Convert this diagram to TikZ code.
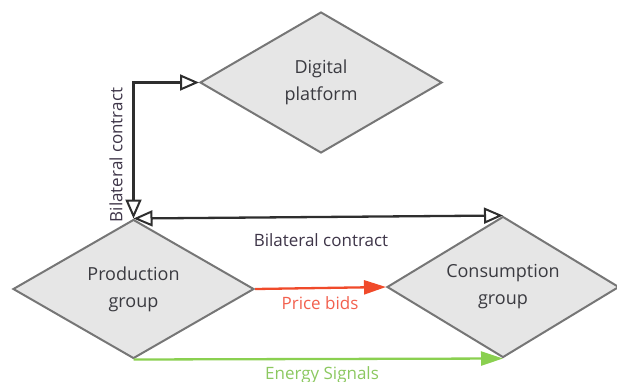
\documentclass[tikz,border=0pt]{standalone}
\usepackage{fontspec}
\setmainfont{Open Sans}
\usetikzlibrary{shapes.geometric,arrows.meta}
\definecolor{boxfill}{HTML}{E6E6E6}
\definecolor{boxline}{HTML}{767676}
\definecolor{txt}{HTML}{3A3A40}
\definecolor{contract}{HTML}{2E2E2E}
\definecolor{contracttxt}{HTML}{3E3548}
\definecolor{bidred}{HTML}{F04A2A}
\definecolor{bidtxt}{HTML}{F2604E}
\definecolor{siggreen}{HTML}{8AD050}
\definecolor{sigtxt}{HTML}{8CC860}
\tikzset{
  group/.style={diamond, draw=boxline, fill=boxfill, line width=2pt,
    aspect=1.7, inner sep=0pt,
    text=txt, font=\fontsize{18}{27}\selectfont, align=center},
  opentip/.tip={Triangle[open,length=19pt,width=16pt,line width=2pt]},
  solidtip/.tip={Triangle[length=22pt,width=14pt]},
  contractline/.style={draw=contract, line width=2.3pt, opentip-opentip},
  lbl/.style={font=\fontsize{17}{19}\selectfont, inner sep=0pt}
}
\begin{document}
\begin{tikzpicture}[x=1pt,y=-1pt]
\useasboundingbox (0,0) rectangle (617,381);
% groups
\node[group, minimum width=242pt, minimum height=141pt] (dp) at (321,82.5) {Digital\\platform};
\node[group, minimum width=241pt, minimum height=139pt] (pg) at (133.5,289) {Production\\group};
\node[group, minimum width=232pt, minimum height=141pt] (cg) at (503,287) {Consumption\\group};
% bilateral contracts
\coordinate (bend) at (pg.north |- dp.west);
\draw[contractline] (dp.west) -- (bend) -- (pg.north);
\draw[contractline] (pg.north) -- (cg.north);
\node[lbl, text=contracttxt, rotate=90] (vlbl) at (116,155) {Bilateral contract};
\node[lbl, text=contracttxt] (hlbl) at (321,240) {Bilateral contract};
% price bids
\draw[bidred, line width=2.3pt, -solidtip] (pg.east) -- (cg.west);
\node[lbl, text=bidtxt] (plbl) at (320,303) {Price bids};
% energy signals
\draw[siggreen, line width=2.3pt, -solidtip] (pg.south) -- (cg.south);
\node[lbl, text=sigtxt] (elbl) at (322,375) {Energy Signals};
\end{tikzpicture}
\end{document}
